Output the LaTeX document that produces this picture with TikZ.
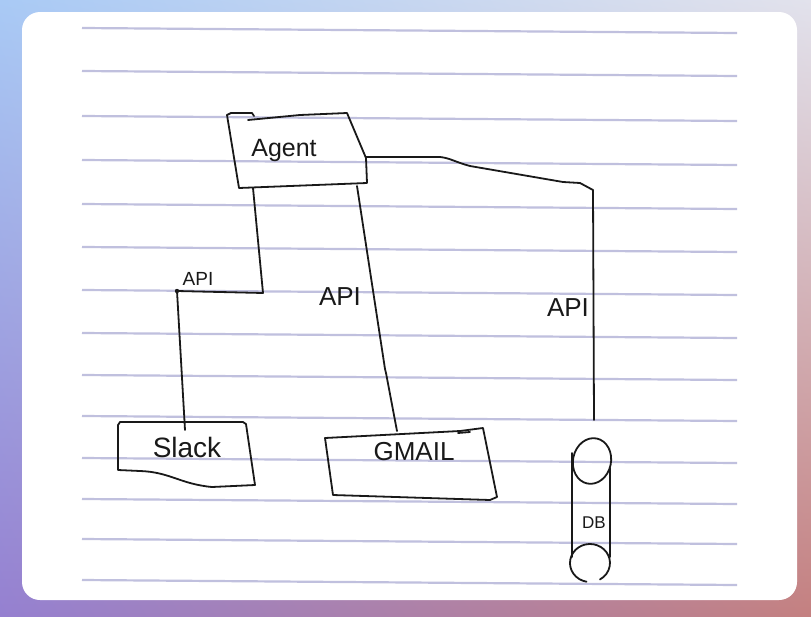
\documentclass[tikz,border=0pt]{standalone}
\usepackage{fontspec}
\setmainfont{Liberation Sans}
\usetikzlibrary{shadings}
\definecolor{bgTL}{RGB}{169,202,245}
\definecolor{bgTR}{RGB}{226,226,236}
\definecolor{bgBL}{RGB}{149,128,208}
\definecolor{bgBR}{RGB}{196,128,128}
\definecolor{rule}{RGB}{192,192,222}
\definecolor{pen}{RGB}{25,25,25}
\begin{document}
\begin{tikzpicture}[x=1pt,y=-1pt,
  ink/.style={draw=pen, line width=1.8pt, line join=round, line cap=round},
  ruled/.style={draw=rule, line width=2.2pt},
  lbl/.style={inner sep=0pt, text=pen}]
\useasboundingbox (0,0) rectangle (811,616);
\shade[upper left=bgTL, upper right=bgTR, lower left=bgBL, lower right=bgBR] (0,0) rectangle (811,616);
\fill[white, rounded corners=18pt] (22,12) rectangle (797,600);
% ruled paper
\foreach \yl in {28,71,116,160,204,247,290,333,375,416,458,499,539,580}
  \draw[ruled] (82,\yl) -- (737,{\yl+5});
% Agent box
\draw[ink] (227,115) -- (239,188) -- (367,183) -- (366,158) -- (347,113) -- (300,115) -- (248,120);
\draw[ink] (227,115) -- (231,113) -- (252,113) -- (254,116);
\node[lbl, font=\fontsize{25}{25}\selectfont] (agent) at (284,150) {Agent};
% Slack box
\draw[ink] (118,425) -- (120,422) -- (243,422) -- (246,424) -- (255,485) -- (212,487) .. controls (180,484) and (170,472) .. (140,471) -- (118,470) -- cycle;
\node[lbl, font=\fontsize{28}{28}\selectfont] (slack) at (187,447) {Slack};
% GMAIL box
\draw[ink] (325,438) -- (460,431) -- (483,428) -- (497,497) -- (490,500) -- (333,495) -- cycle;
\draw[ink] (458,433) -- (470,432);
\node[lbl, font=\fontsize{26}{26}\selectfont] (gmail) at (414,452) {GMAIL};
% DB cylinder
\draw[ink, rotate around={-12:(592,461)}] (592,461) ellipse[x radius=19, y radius=23];
\draw[ink] (572,453) -- (572,557);
\draw[ink] (610,468) -- (610,557);
\draw[ink] (586.5,581.7) arc[start angle=100, end angle=420, x radius=20, y radius=19];
\node[lbl, font=\fontsize{17}{17}\selectfont] (db) at (594,523) {DB};
% connection points
\coordinate (a1) at (253,188);
\coordinate (a2) at (357,186);
\coordinate (a3) at (366,157);
\coordinate (s1) at (185,430);
\coordinate (g1) at (397,431);
\coordinate (d1) at (594,420);
% connectors
\draw[ink] (a1) -- (263,293) -- (177,291) -- (s1);
\fill[pen] (177,291) circle (2.2pt);
\draw[ink] (a2) -- (385,369) -- (386,373) -- (g1);
\draw[ink] (a3) -- (440,157) .. controls (450,158) and (455,162) .. (470,166) -- (563,182) -- (580,183) -- (593,190) -- (d1);
% labels
\node[lbl, font=\fontsize{19}{19}\selectfont] (api1) at (198,279) {API};
\node[lbl, font=\fontsize{26}{26}\selectfont] (api2) at (340,297) {API};
\node[lbl, font=\fontsize{26}{26}\selectfont] (api3) at (568,308) {API};
\end{tikzpicture}
\end{document}
